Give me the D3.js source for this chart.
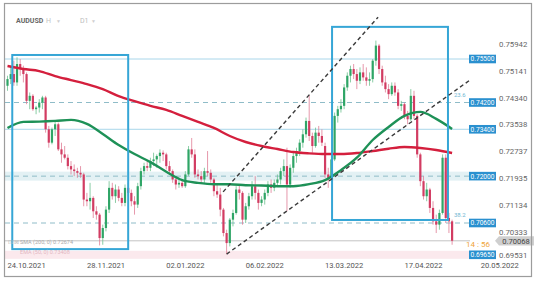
<!DOCTYPE html>
<html>
<head>
<meta charset="utf-8">
<script src="https://cdn.jsdelivr.net/npm/d3@7"></script>
<style>
  html, body { margin: 0; padding: 0; background: #fff; }
  svg { display: block; font-family: Roboto, "Open Sans", sans-serif; }
</style>
</head>
<body>
<div id="chart"></div>
<script>
"use strict";

// AUDUSD D1, one row per weekday starting 25.10.2021: [open, high, low, close]
var firstDay = "2021-10-25";
var candles = [
    [.7470,.7500,.7455,.7490],[.7490,.7530,.7475,.7505],[.7505,.7545,.7470,.7480],[.7480,.7555,.7470,.7535],[.7535,.7550,.7500,.7520],
    [.7520,.7530,.7480,.7505],[.7505,.7510,.7415,.7425],[.7425,.7450,.7400,.7440],[.7440,.7445,.7395,.7400],[.7400,.7410,.7385,.7405],
    [.7405,.7430,.7390,.7420],[.7420,.7440,.7400,.7435],[.7435,.7440,.7330,.7340],[.7340,.7350,.7285,.7300],[.7300,.7345,.7295,.7340],
    [.7340,.7365,.7320,.7355],[.7355,.7360,.7275,.7280],[.7280,.7300,.7240,.7265],[.7265,.7290,.7250,.7255],[.7255,.7265,.7220,.7230],
    [.7230,.7245,.7205,.7220],[.7220,.7235,.7200,.7215],[.7215,.7225,.7195,.7210],[.7210,.7230,.7195,.7205],[.7205,.7210,.7110,.7130],
    [.7130,.7150,.7110,.7125],[.7125,.7180,.7100,.7135],[.7135,.7140,.7075,.7095],[.7095,.7110,.7070,.7085],[.7085,.7090,.6993,.7015],
    [.7015,.7055,.6995,.7045],[.7045,.7110,.7035,.7100],[.7100,.7185,.7090,.7165],[.7165,.7180,.7130,.7140],[.7140,.7175,.7120,.7160],
    [.7160,.7170,.7125,.7135],[.7135,.7150,.7110,.7120],[.7120,.7175,.7110,.7165],[.7165,.7180,.7140,.7150],[.7150,.7160,.7110,.7125],
    [.7125,.7140,.7085,.7115],[.7115,.7180,.7105,.7170],[.7170,.7225,.7160,.7215],[.7215,.7240,.7205,.7230],[.7230,.7245,.7215,.7225],
    [.7225,.7255,.7215,.7245],[.7245,.7270,.7230,.7250],[.7250,.7265,.7225,.7260],[.7260,.7280,.7240,.7270],[.7270,.7277,.7245,.7265],
    [.7265,.7270,.7220,.7230],[.7230,.7245,.7205,.7215],[.7215,.7220,.7180,.7190],[.7190,.7200,.7160,.7175],[.7175,.7195,.7165,.7180],
    [.7180,.7190,.7165,.7170],[.7170,.7215,.7165,.7205],[.7205,.7290,.7200,.7280],[.7280,.7314,.7255,.7265],[.7265,.7280,.7195,.7205],
    [.7205,.7220,.7190,.7200],[.7200,.7215,.7180,.7190],[.7190,.7225,.7180,.7215],[.7215,.7275,.7200,.7210],[.7210,.7220,.7180,.7190],
    [.7190,.7195,.7140,.7155],[.7155,.7175,.7135,.7145],[.7145,.7165,.7080,.7100],[.7100,.7105,.7020,.7030],[.7030,.7040,.6967,.7000],
    [.7000,.7075,.6990,.7070],[.7070,.7100,.7050,.7090],[.7090,.7170,.7085,.7160],[.7160,.7175,.7130,.7150],[.7150,.7155,.7055,.7070],
    [.7070,.7120,.7060,.7110],[.7110,.7150,.7100,.7140],[.7140,.7185,.7130,.7170],[.7170,.7200,.7130,.7150],[.7150,.7160,.7100,.7120],
    [.7120,.7140,.7110,.7130],[.7130,.7160,.7115,.7150],[.7150,.7185,.7140,.7175],[.7175,.7190,.7150,.7165],[.7165,.7190,.7155,.7180],
    [.7180,.7205,.7170,.7190],[.7190,.7225,.7175,.7215],[.7215,.7250,.7200,.7230],[.7230,.7285,.7095,.7175],[.7175,.7235,.7165,.7225],
    [.7225,.7270,.7210,.7260],[.7260,.7285,.7240,.7275],[.7275,.7310,.7260,.7300],[.7300,.7340,.7285,.7325],[.7325,.7375,.7315,.7365],
    [.7365,.7442,.7305,.7320],[.7320,.7330,.7270,.7290],[.7290,.7345,.7285,.7330],[.7330,.7350,.7300,.7320],[.7320,.7340,.7290,.7300],
    [.7290,.7300,.7195,.7205],[.7205,.7225,.7165,.7195],[.7195,.7260,.7185,.7250],[.7250,.7390,.7245,.7380],[.7380,.7410,.7360,.7400],
    [.7400,.7430,.7390,.7410],[.7410,.7475,.7400,.7465],[.7465,.7510,.7455,.7500],[.7500,.7530,.7480,.7520],[.7520,.7535,.7490,.7505],
    [.7505,.7520,.7460,.7485],[.7485,.7525,.7475,.7510],[.7510,.7535,.7485,.7495],[.7495,.7525,.7470,.7485],[.7485,.7510,.7470,.7490],
    [.7490,.7550,.7480,.7545],[.7545,.7605,.7530,.7590],[.7590,.7595,.7505,.7520],[.7520,.7530,.7470,.7480],[.7480,.7500,.7450,.7460],
    [.7460,.7475,.7430,.7445],[.7445,.7480,.7440,.7470],[.7470,.7480,.7440,.7450],[.7450,.7460,.7400,.7410],[.7410,.7425,.7395,.7415],
    [.7415,.7420,.7370,.7380],[.7380,.7395,.7355,.7370],[.7370,.7460,.7365,.7440],[.7440,.7455,.7370,.7380],[.7380,.7385,.7255,.7265],
    [.7265,.7270,.7170,.7185],[.7185,.7200,.7130,.7140],[.7140,.7180,.7125,.7160],[.7160,.7165,.7090,.7105],[.7105,.7125,.7055,.7065],
    [.7065,.7085,.7030,.7055],[.7055,.7100,.7040,.7090],[.7090,.7265,.7085,.7255],[.7255,.7265,.7060,.7075],[.7075,.7090,.7030,.7065],
    [.7065,.7070,.6995,.7007]
];

// moving averages: [candle index, value]
var sma200 = [[0,.7529],[5,.7520],[10,.7514],[15,.7499],[20,.7487],[25,.7475],[30,.7460],[35,.7439],[40,.7424],[45,.7410],
    [50,.7398],[55,.7380],[60,.7362],[65,.7344],[70,.7320],[75,.7302],[80,.7290],[85,.7281],[90,.7272],[95,.7268],
    [100,.7266],[105,.7266],[110,.7269],[115,.7275],[120,.7282],[125,.7287],[130,.7284],[135,.7278],[140,.7269]];
var ema50 = [[0,.7344],[5,.7362],[10,.7363],[15,.7365],[20,.7368],[25,.7356],[30,.7326],[35,.7293],[40,.7266],[45,.7242],
    [50,.7213],[55,.7188],[60,.7180],[65,.7176],[70,.7176],[75,.7173],[80,.7172],[85,.7170],[90,.7170],[95,.7176],
    [100,.7188],[105,.7218],[110,.7255],[115,.7308],[120,.7347],[125,.7380],[130,.7392],[135,.7371],[140,.7341]];

var priceTicks = [0.75942, 0.75141, 0.74340, 0.73538, 0.72737, 0.71935, 0.71134, 0.70333, 0.69531];
var dateTicks = ["24.10.2021", "28.11.2021", "02.01.2022", "06.02.2022", "13.03.2022", "17.04.2022", "20.05.2022"];

var solidLevels = [0.75500, 0.73400];
var dashedLevels = [0.74200, 0.70600];
var bandLevel = 0.72000;
var supportLevel = 0.69650;
var lastPrice = 0.70068;
var fibs = [["23.6", 0.74200], ["38.2", 0.70600]];

// rectangles: [from index, to index, top price, bottom price]
var boxes = [[1.5, 38, 0.7562, 0.6982], [102.2, 138.7, 0.7646, 0.7069]];
// trend lines: [[index, price], [index, price]]
var trends = [[[67.9, 0.7153], [116.7, 0.7675]], [[69, 0.6967], [145.6, 0.7487]]];

var W = 536, H = 282;
var plotL = 5, plotR = 470, plotT = 5, plotB = 262;

var svg = d3.select("#chart").append("svg")
    .attr("width", W)
    .attr("height", H);

// weekday calendar for the x axis
var parse = d3.timeParse("%Y-%m-%d");
var fmt = d3.timeFormat("%d.%m.%Y");
var days = d3.timeDay.range(parse(firstDay), parse("2022-06-01"))
    .filter(function (d) { return d.getDay() != 0 && d.getDay() != 6; });

function dayIndex(label) {
    var p = d3.timeParse("%d.%m.%Y")(label);
    return d3.bisector(function (d) { return d; }).left(days, p);
}

var x = d3.scaleLinear().domain([0, 140]).range([7.5, 452.1]);
var y = d3.scaleLinear().domain([0.755, 0.706]).range([59, 223]);

svg.append("defs").append("clipPath").attr("id", "plot")
    .append("rect").attr("x", plotL).attr("y", plotT)
    .attr("width", plotR - plotL).attr("height", plotB - plotT);

var plot = svg.append("g").attr("clip-path", "url(#plot)");

//bands
plot.append("rect")
    .attr("x", plotL).attr("width", plotR - plotL)
    .attr("y", y(bandLevel) - 4.5).attr("height", 9)
    .attr("fill", "#e3f1f4");
plot.append("rect")
    .attr("x", plotL).attr("width", plotR - plotL)
    .attr("y", y(supportLevel) - 4).attr("height", 8)
    .attr("fill", "#fbe9ed");

//level lines
plot.selectAll(".solid").data(solidLevels).enter().append("line")
    .attr("x1", plotL).attr("x2", plotR)
    .attr("y1", function (d) { return y(d); }).attr("y2", function (d) { return y(d); })
    .attr("stroke", "#a9d6ea").attr("stroke-width", 1);
plot.selectAll(".dashed").data(dashedLevels.concat([bandLevel])).enter().append("line")
    .attr("x1", plotL).attr("x2", plotR)
    .attr("y1", function (d) { return y(d); }).attr("y2", function (d) { return y(d); })
    .attr("stroke", "#8fbcc8").attr("stroke-width", 1).attr("stroke-dasharray", "5,4");
plot.append("line")
    .attr("x1", plotL).attr("x2", plotR)
    .attr("y1", y(lastPrice)).attr("y2", y(lastPrice))
    .attr("stroke", "#c4c4c4").attr("stroke-width", 1);

//candles
var bw = 2.2;
var candle = plot.append("g").selectAll("g").data(candles).enter().append("g");
candle.append("line")
    .attr("x1", function (d, i) { return x(i); }).attr("x2", function (d, i) { return x(i); })
    .attr("y1", function (d) { return y(d[1]); }).attr("y2", function (d) { return y(d[2]); })
    .attr("stroke", function (d) { return d[3] >= d[0] ? "#6cc08e" : "#e07d95"; })
    .attr("stroke-width", 0.8);
candle.append("rect")
    .attr("x", function (d, i) { return x(i) - bw / 2; })
    .attr("width", bw)
    .attr("y", function (d) { return y(Math.max(d[0], d[3])); })
    .attr("height", function (d) { return Math.max(0.8, Math.abs(y(d[0]) - y(d[3]))); })
    .attr("fill", function (d) { return d[3] >= d[0] ? "#2fa566" : "#d23c62"; });

//moving averages
var maLine = d3.line()
    .x(function (d) { return x(d[0]); })
    .y(function (d) { return y(d[1]); })
    .curve(d3.curveMonotoneX);
plot.append("path").datum(sma200).attr("d", maLine)
    .attr("fill", "none").attr("stroke", "#d41f3d").attr("stroke-width", 2.4);
plot.append("path").datum(ema50).attr("d", maLine)
    .attr("fill", "none").attr("stroke", "#1e9157").attr("stroke-width", 2.4);

//boxes
plot.selectAll(".box").data(boxes).enter().append("rect")
    .attr("x", function (d) { return x(d[0]); })
    .attr("width", function (d) { return x(d[1]) - x(d[0]); })
    .attr("y", function (d) { return y(d[2]); })
    .attr("height", function (d) { return y(d[3]) - y(d[2]); })
    .attr("fill", "none").attr("stroke", "#36a6d6").attr("stroke-width", 2);

//trend lines
plot.selectAll(".trend").data(trends).enter().append("line")
    .attr("x1", function (d) { return x(d[0][0]); }).attr("y1", function (d) { return y(d[0][1]); })
    .attr("x2", function (d) { return x(d[1][0]); }).attr("y2", function (d) { return y(d[1][1]); })
    .attr("stroke", "#3a3a3a").attr("stroke-width", 1.4).attr("stroke-dasharray", "4,3");

//fib labels
plot.selectAll(".fib").data(fibs).enter().append("text")
    .attr("x", 454).attr("y", function (d) { return y(d[1]) - 6; })
    .attr("font-size", 6).attr("fill", "#6fb6d2")
    .text(function (d) { return d[0]; });

//legend
var legend = svg.append("g").attr("font-size", 5.5).attr("fill", "#aaa");
legend.append("text").attr("x", 20).attr("y", 244).text("SMA (200, 0)  0.72674");
legend.append("text").attr("x", 20).attr("y", 254).attr("fill", "#e3b7c2").text("EMA (50, 0)  0.73408");
legend.append("text").attr("x", 8).attr("y", 244).attr("fill", "#bbb").text("⊡ ⊠");

//price axis
svg.append("g").selectAll("text").data(priceTicks).enter().append("text")
    .attr("x", 499).attr("y", function (d) { return Math.min(y(d), 255) + 2.8; })
    .attr("font-size", 7.8).attr("fill", "#666")
    .text(function (d) { return d3.format(".5f")(d); });

//level tags
var tags = svg.append("g").selectAll("g")
    .data(solidLevels.concat(dashedLevels, [bandLevel, supportLevel])).enter().append("g");
tags.append("rect")
    .attr("x", 469).attr("width", 27)
    .attr("y", function (d) { return y(d) - 4.3; }).attr("height", 8.6)
    .attr("fill", "#2a90cf");
tags.append("text")
    .attr("x", 482.5).attr("y", function (d) { return y(d) + 2.4; })
    .attr("text-anchor", "middle").attr("font-size", 6.6).attr("fill", "#fff")
    .text(function (d) { return d3.format(".5f")(d); });

//last price tag
var ly = y(lastPrice);
svg.append("path")
    .attr("d", "M495," + ly + " L499," + (ly - 4.6) + " L534," + (ly - 4.6) + " L534," + (ly + 4.6) + " L499," + (ly + 4.6) + " Z")
    .attr("fill", "#cfcfcf");
svg.append("text").attr("x", 516).attr("y", ly + 2.8)
    .attr("text-anchor", "middle").attr("font-size", 7.6).attr("fill", "#444")
    .text(d3.format(".5f")(lastPrice));
svg.append("text").attr("x", 466).attr("y", ly + 6)
    .attr("font-size", 8).attr("fill", "#f0a53a")
    .text("14 : 56");

//date axis
svg.append("g").selectAll("text").data(dateTicks).enter().append("text")
    .attr("x", function (d) { return x(dayIndex(d)); })
    .attr("y", 268)
    .attr("font-size", 7.6).attr("fill", "#555")
    .text(function (d) { return d; });

//title
var title = svg.append("g").attr("font-size", 7);
title.append("text").attr("x", 16).attr("y", 23).attr("font-weight", "bold").attr("fill", "#666").text("AUDUSD");
title.append("text").attr("x", 46).attr("y", 23).attr("fill", "#c4c4c4").text("H");
title.append("text").attr("x", 56).attr("y", 23).attr("fill", "#d0d0d0").attr("font-size", 5).text("▼");
title.append("text").attr("x", 80).attr("y", 23).attr("fill", "#bcbcbc").text("D1");
title.append("text").attr("x", 91).attr("y", 23).attr("fill", "#d0d0d0").attr("font-size", 5).text("▼");

//frame
svg.append("rect")
    .attr("x", 4.5).attr("y", 3.5).attr("width", 527).attr("height", 273)
    .attr("fill", "none").attr("stroke", "#9c9c9c").attr("stroke-width", 1.2);
</script>
</body>
</html>
